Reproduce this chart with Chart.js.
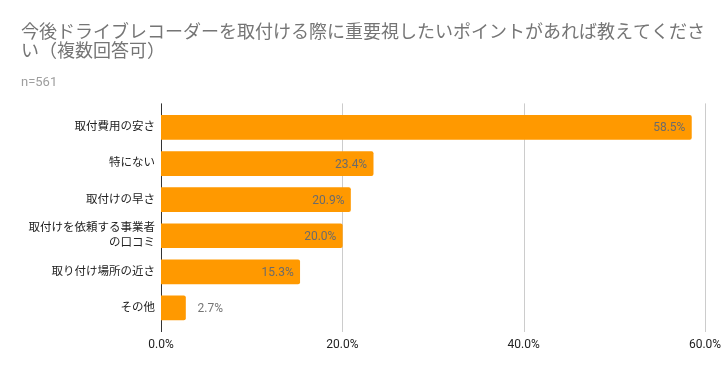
<!DOCTYPE html>
<html>
<head>
<meta charset="utf-8">
<script src="https://cdn.jsdelivr.net/npm/chart.js@4"></script>
<style>
  html, body { margin: 0; padding: 0; background: #fff; }
  #wrap { width: 724px; height: 371px; }
</style>
</head>
<body>
<div id="wrap"><canvas id="myChart"></canvas></div>
<script>
const titleLines = ['今後ドライブレコーダーを取付ける際に重要視したいポイントがあれば教えてくださ', 'い（複数回答可）'];
const subtitleText = 'n=561';
const categories = ['取付費用の安さ', '特にない', '取付けの早さ', ['取付けを依頼する事業者', 'の口コミ'], '取り付け場所の近さ', 'その他'];
const values = [58.5, 23.4, 20.9, 20.0, 15.3, 2.7];
const xTicks = [0, 20, 40, 60];

const FONT = "Roboto, 'Noto Sans CJK JP', sans-serif";

// extend the grid lines a bit above / below the plot, and the dark axis line at 0
const gridPlugin = {
  id: 'gridExt',
  beforeDatasetsDraw(chart) {
    const { ctx, chartArea, scales } = chart;
    ctx.save();
    xTicks.forEach(v => {
      const x = Math.round(scales.x.getPixelForValue(v)) + 0.5;
      ctx.strokeStyle = v === 0 ? '#333333' : '#cccccc';
      ctx.lineWidth = 1;
      ctx.beginPath();
      ctx.moveTo(x, chartArea.top - 6);
      ctx.lineTo(x, chartArea.bottom + 6);
      ctx.stroke();
    });
    ctx.restore();
  }
};

// value labels: inside the bar end, or just after it when the bar is short
const labelPlugin = {
  id: 'barLabels',
  afterDatasetsDraw(chart) {
    const { ctx } = chart;
    const meta = chart.getDatasetMeta(0);
    ctx.save();
    ctx.font = '12px ' + FONT;
    ctx.textBaseline = 'middle';
    meta.data.forEach((bar, i) => {
      const txt = values[i].toFixed(1) + '%';
      const w = ctx.measureText(txt).width;
      const barW = bar.x - bar.base;
      if (barW > w + 12) {
        ctx.fillStyle = '#6b6b6b';
        ctx.textAlign = 'right';
        ctx.fillText(txt, bar.x - 6, bar.y + 1);
      } else {
        ctx.fillStyle = '#757575';
        ctx.textAlign = 'left';
        ctx.fillText(txt, bar.x + 12, bar.y + 1);
      }
    });
    ctx.restore();
  }
};

const ctx = document.getElementById('myChart').getContext('2d');

let myChart = new Chart(ctx, {
  type: 'bar',
  data: {
    labels: categories,
    datasets: [{
      data: values,
      backgroundColor: '#ff9900',
      borderWidth: 0,
      borderRadius: 2,
      borderSkipped: 'start',
      barThickness: 24
    }]
  },
  options: {
    indexAxis: 'y',
    responsive: true,
    maintainAspectRatio: false,
    animation: false,
    layout: { padding: { left: 21, right: 19, top: 0, bottom: 0 } },
    plugins: {
      legend: { display: false },
      tooltip: { enabled: false },
      title: {
        display: true,
        text: titleLines,
        align: 'start',
        color: '#757575',
        font: { family: FONT, size: 18, weight: 'normal', lineHeight: 1.05 },
        padding: { top: 24, bottom: 0 }
      },
      subtitle: {
        display: true,
        text: subtitleText,
        align: 'start',
        color: '#9e9e9e',
        font: { family: FONT, size: 13, weight: 'normal', lineHeight: 1.2 },
        padding: { top: 13, bottom: 19 }
      }
    },
    scales: {
      x: {
        min: 0,
        max: 60,
        grid: { display: false, drawTicks: true, tickLength: 12 },
        border: { display: false },
        afterFit: scale => { scale.height = 45; },
        ticks: {
          stepSize: 20,
          padding: 0,
          color: '#222222',
          font: { family: FONT, size: 12 },
          callback: v => v.toFixed(1) + '%'
        }
      },
      y: {
        grid: { display: false, drawTicks: false, tickLength: 0 },
        border: { display: false },
        afterFit: scale => { scale.width = 140; },
        ticks: {
          padding: 6,
          color: '#222222',
          font: { family: FONT, size: 11.5, lineHeight: 1.3 }
        }
      }
    }
  },
  plugins: [gridPlugin, labelPlugin]
});
</script>
</body>
</html>
